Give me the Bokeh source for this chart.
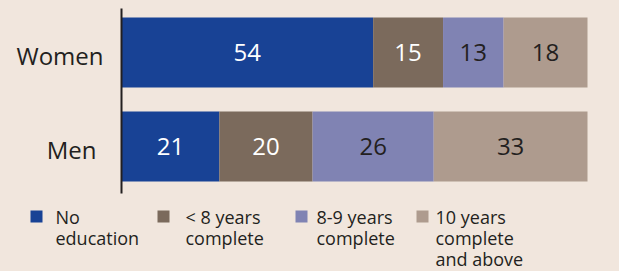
from bokeh.plotting import figure
from bokeh.models import ColumnDataSource, Range1d
from bokeh.core.properties import value
from bokeh.embed import file_html
from bokeh.resources import INLINE

groups = ["Men", "Women"]
categories = ["No education", "< 8 years complete", "8-9 years complete", "10 years complete and above"]
legend_labels = ["No\neducation", "< 8 years\ncomplete", "8-9 years\ncomplete", "10 years\ncomplete\nand above"]
no_education = [21, 54]
lt8_years = [20, 15]
y8_9_years = [26, 13]
ge10_years = [33, 18]
colors = ["#184295", "#7b6a5c", "#8083b3", "#ae9b8e"]
label_colors = ["#ffffff", "#ffffff", "#231f20", "#231f20"]

BG = "#f1e6dd"
INK = "#231f20"
FONT = "Open Sans"
W, H = 619, 271

# pixel layout of the plotting area (page coordinates)
X0_PX, X100_PX = 121, 587          # where 0 % and 100 % fall
Y_MEN_PX, Y_WOMEN_PX = 146, 52     # bar centres
sx = (X100_PX - X0_PX) / 100.0
sy = (Y_MEN_PX - Y_WOMEN_PX) / 1.0


def px2x(px):
    return (px - X0_PX) / sx


def py2y(py):
    return (Y_MEN_PX - py) / sy


keys = ["c0", "c1", "c2", "c3"]
series = [no_education, lt8_years, y8_9_years, ge10_years]
gidx = list(range(len(groups)))
src = ColumnDataSource(dict(g=gidx, **{k: s for k, s in zip(keys, series)}))

p = figure(width=W, height=H, x_range=Range1d(px2x(0), px2x(W)), y_range=Range1d(py2y(H), py2y(0)),
           output_backend="svg", toolbar_location=None,
           min_border_left=0, min_border_right=0, min_border_top=0, min_border_bottom=0)
p.background_fill_color = BG
p.border_fill_color = BG
p.outline_line_color = None
p.axis.visible = False
p.grid.visible = False

p.hbar_stack(keys, y="g", height=70 / sy, color=colors, source=src, line_color=None)

# value labels at segment midpoints
lx, ly, lt, lc = [], [], [], []
for gi in gidx:
    cum = 0
    for si, s in enumerate(series):
        v = s[gi]
        lx.append(cum + v / 2)
        ly.append(gi)
        lt.append(str(v))
        lc.append(label_colors[si])
        cum += v
p.text(x=lx, y=ly, text=lt, text_color=lc, text_align="center", text_baseline="middle",
       text_font=value(FONT), text_font_size="24px")

# category axis (line + labels)
p.segment(x0=0, x1=0, y0=py2y(193), y1=py2y(8), line_color=INK, line_width=2)
p.text(x=[0] * len(groups), y=gidx, text=groups, text_color=INK, text_align="right",
       text_baseline="middle", x_offset=[-25, -18], y_offset=3,
       text_font=value(FONT), text_font_size="24px")

# legend
sq_px = [36, 163, 301, 422]
tx_px = [55, 185, 316, 435]
p.rect(x=[px2x(v) for v in sq_px], y=[py2y(216)] * 4, width=12, height=12,
       width_units="screen", height_units="screen", color=colors, line_color=None)
p.text(x=[px2x(v) for v in tx_px], y=[py2y(204)] * 4, text=legend_labels, text_color=INK,
       text_align="left", text_baseline="top", text_font=value(FONT), text_font_size="18px",
       text_line_height=0.89)

html = file_html(p, INLINE)
html = html.replace("<head>", "<head><style>body{background:%s;}</style>" % BG, 1)
open("out.html", "w").write(html)
